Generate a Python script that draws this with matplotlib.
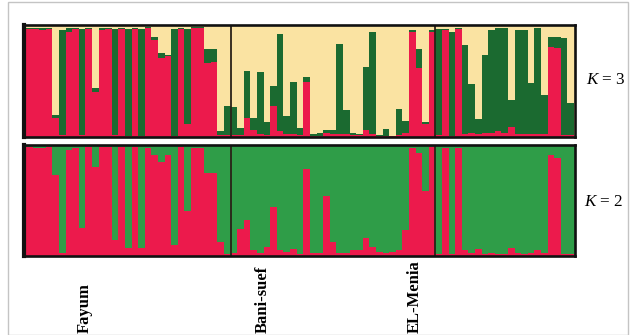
import matplotlib
matplotlib.use("Agg")
import matplotlib.pyplot as plt
from matplotlib.patches import Rectangle
import numpy as np

plt.rcParams['mathtext.fontset'] = 'custom'
plt.rcParams['mathtext.it'] = 'Liberation Serif:italic'
plt.rcParams['mathtext.rm'] = 'Liberation Serif'

populations = ["Fayum", "Bani-suef", "EL-Menia"]

# K = 3 : membership in cluster 1 (red, bottom) and cluster 2 (dark green, middle); rest = cluster 3 (yellow)
fayum_k3_red = [0.96, 0.96, 0.95, 0.96, 0.17, 0.02, 0.93, 0.96, 0.02, 0.96, 0.40, 0.95, 0.96, 0.02, 0.96, 0.01,
                0.96, 0.01, 0.97, 0.86, 0.70, 0.72, 0.01, 0.96, 0.12, 0.97, 0.97, 0.66, 0.67, 0.02, 0.02]
fayum_k3_dg = [0.01, 0.01, 0.02, 0.01, 0.03, 0.93, 0.04, 0.01, 0.94, 0.01, 0.04, 0.02, 0.01, 0.94, 0.01, 0.95,
               0.01, 0.95, 0.01, 0.03, 0.05, 0.01, 0.95, 0.01, 0.84, 0.01, 0.01, 0.12, 0.11, 0.03, 0.26]
bani_k3_red = [0.02, 0.02, 0.17, 0.06, 0.03, 0.02, 0.28, 0.05, 0.03, 0.03, 0.02, 0.49, 0.01, 0.01, 0.04, 0.03,
               0.03, 0.03, 0.02, 0.02, 0.06, 0.03, 0.01, 0.01, 0.01, 0.02, 0.04, 0.93, 0.61, 0.12, 0.93]
bani_k3_dg = [0.25, 0.06, 0.42, 0.105, 0.55, 0.115, 0.17, 0.87, 0.16, 0.46, 0.06, 0.04, 0.02, 0.03, 0.02, 0.03,
              0.80, 0.21, 0.02, 0.01, 0.56, 0.90, 0.01, 0.06, 0.00, 0.225, 0.10, 0.02, 0.17, 0.01, 0.02]
menia_k3_red = [0.02, 0.95, 0.01, 0.96, 0.03, 0.04, 0.03, 0.04, 0.04, 0.05, 0.04, 0.09, 0.03, 0.03, 0.03, 0.03,
                0.03, 0.80, 0.79, 0.02, 0.02]
menia_k3_dg = [0.94, 0.01, 0.92, 0.01, 0.79, 0.43, 0.13, 0.69, 0.91, 0.92, 0.93, 0.24, 0.92, 0.92, 0.45, 0.94,
               0.34, 0.09, 0.10, 0.86, 0.28]

# K = 2 : membership in cluster 1 (red, bottom); rest = cluster 2 (green)
fayum_k2_red = [0.98, 0.97, 0.97, 0.98, 0.73, 0.03, 0.95, 0.97, 0.25, 0.98, 0.80, 0.98, 0.98, 0.14, 0.98, 0.07,
                0.98, 0.07, 0.97, 0.91, 0.84, 0.91, 0.10, 0.98, 0.40, 0.97, 0.97, 0.74, 0.74, 0.13, 0.02]
bani_k2_red = [0.03, 0.24, 0.32, 0.05, 0.03, 0.08, 0.44, 0.05, 0.04, 0.06, 0.02, 0.78, 0.03, 0.03, 0.54, 0.13,
               0.03, 0.03, 0.05, 0.05, 0.16, 0.08, 0.04, 0.03, 0.04, 0.05, 0.23, 0.97, 0.92, 0.58, 0.98]
menia_k2_red = [0.02, 0.97, 0.02, 0.97, 0.05, 0.03, 0.06, 0.02, 0.03, 0.02, 0.02, 0.07, 0.03, 0.02, 0.03, 0.05,
                0.03, 0.91, 0.88, 0.02, 0.02]

RED = '#EC1A4C'
DGREEN = '#1B6A30'
YELLOW = '#FAE3A2'
GREEN = '#2F9D48'

k3_red = np.array(fayum_k3_red + bani_k3_red + menia_k3_red)
k3_dg = np.array(fayum_k3_dg + bani_k3_dg + menia_k3_dg)
k3_yel = np.clip(1 - k3_red - k3_dg, 0, 1)
k2_red = np.array(fayum_k2_red + bani_k2_red + menia_k2_red)
k2_grn = 1 - k2_red
counts = [len(fayum_k3_red), len(bani_k3_red), len(menia_k3_red)]
N = sum(counts)
x = np.arange(N)

W, H = 630, 335
fig = plt.figure(figsize=(W / 100, H / 100), dpi=100)

def px_axes(l, t, r, b):
    return fig.add_axes([l / W, 1 - b / H, (r - l) / W, (b - t) / H])

ax1 = px_axes(23.5, 24.5, 574.5, 137)
ax2 = px_axes(23.5, 144.5, 574.5, 256)

scale = (574 - 26) / N
xl = (-(26 - 23.5) / scale, N + 0.5 / scale)

ax1.bar(x, k3_red, width=1.0, align='edge', color=RED, linewidth=0)
ax1.bar(x, k3_dg, bottom=k3_red, width=1.0, align='edge', color=DGREEN, linewidth=0)
ax1.bar(x, k3_yel, bottom=k3_red + k3_dg, width=1.0, align='edge', color=YELLOW, linewidth=0)

ax2.bar(x, k2_red, width=1.0, align='edge', color=RED, linewidth=0)
ax2.bar(x, k2_grn, bottom=k2_red, width=1.0, align='edge', color=GREEN, linewidth=0)

bounds = np.cumsum(counts)[:-1]
for ax in (ax1, ax2):
    ax.set_xlim(*xl)
    ax.set_ylim(0, 1)
    ax.set_xticks([])
    ax.set_yticks([])
    ax.set_facecolor(YELLOW if ax is ax1 else GREEN)
    for s in ax.spines.values():
        s.set_linewidth(1.9)
        s.set_color('#111111')
    ax.spines['left'].set_linewidth(3.0)
    for bnd in bounds:
        ax.axvline(bnd, color='#2a2218', lw=1.3)

fig.text(586 / W, 1 - 80 / H, r'$K$ = 3', fontsize=12.3, family='Liberation Serif', va='center', ha='left')
fig.text(584 / W, 1 - 202 / H, r'$K$ = 2', fontsize=12.3, family='Liberation Serif', va='center', ha='left')

label_x = [85, 263, 415]
for name, lx in zip(populations, label_x):
    fig.text(lx / W, 1 - 333 / H, name, rotation=90, fontsize=12.0, family='Liberation Serif',
             fontweight='bold', ha='center', va='bottom')

fig.patches.append(Rectangle((8 / W, 0), (628 - 8) / W, 1 - 1.5 / H, transform=fig.transFigure,
                             fill=False, edgecolor='#c4c4c4', linewidth=1.0))

fig.savefig('out.png', dpi=100)
